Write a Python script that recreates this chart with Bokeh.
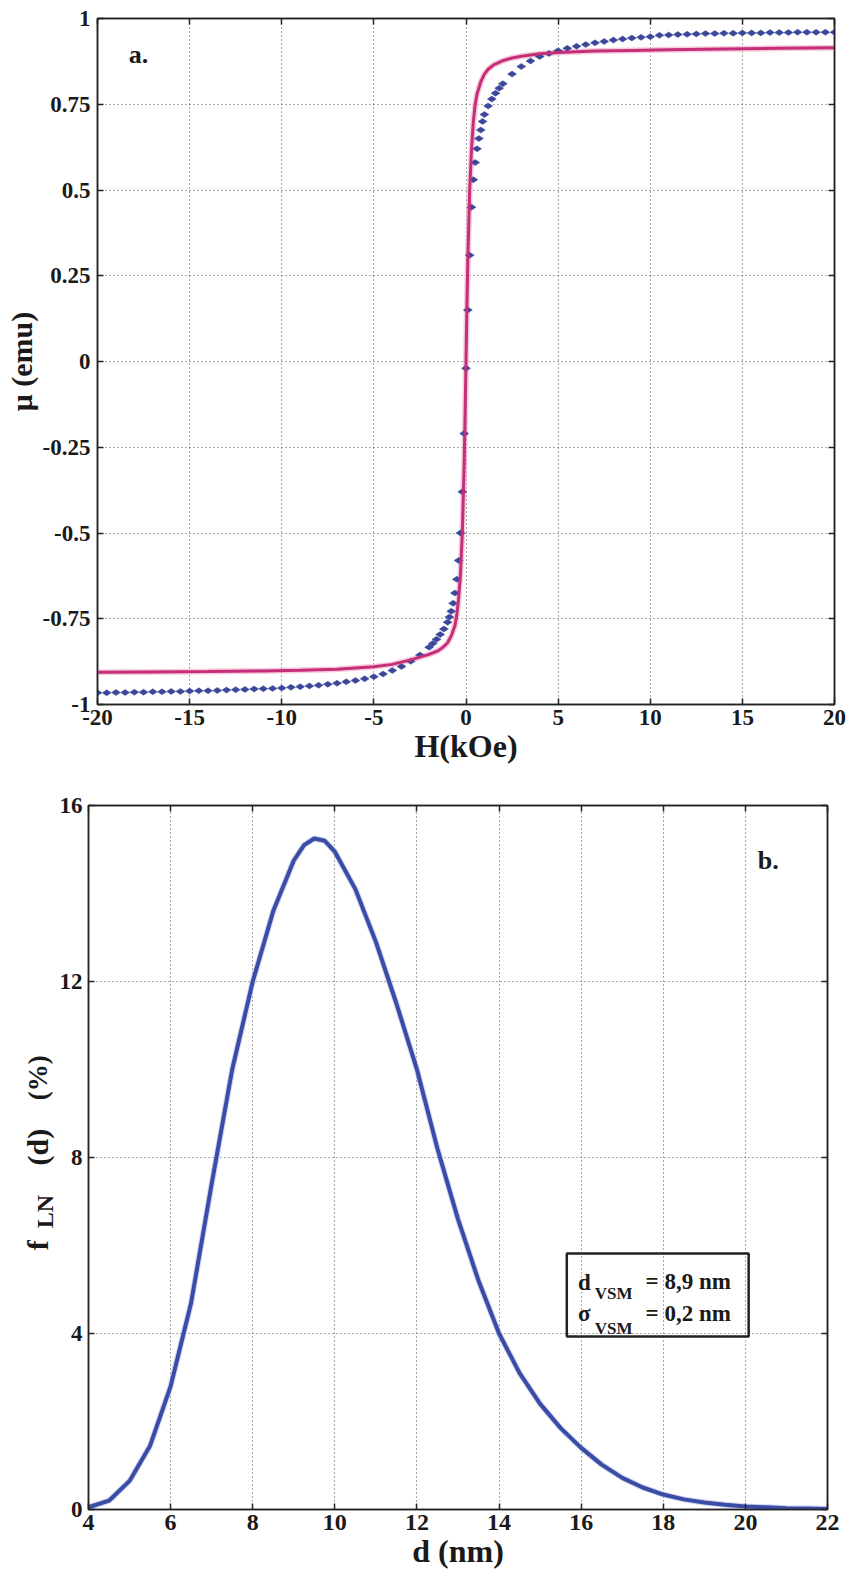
import numpy as np
from bokeh.plotting import figure
from bokeh.layouts import column, row
from bokeh.models import (Range1d, LinearAxis, FixedTicker, CustomJSTickFormatter,
                          Label, BoxAnnotation)
from bokeh.embed import file_html
from bokeh.resources import INLINE

# ---------------- data: panel a (magnetisation loop) ----------------
H_meas = [-20, -19.5, -19, -18.5, -18, -17.5, -17, -16.5, -16, -15.5, -15, -14.5, -14, -13.5,
          -13, -12.5, -12, -11.5, -11, -10.5, -10, -9.5, -9, -8.5, -8, -7.5, -7, -6.5, -6,
          -5.5, -5, -4.5, -4, -3.5, -3, -2.5, -2, -1.8, -1.6, -1.4, -1.2, -1.0, -0.9, -0.8,
          -0.7, -0.6, -0.5, -0.4, -0.3, -0.2, -0.1, 0,
          0.1, 0.2, 0.3, 0.4, 0.5, 0.6, 0.7, 0.8, 0.9, 1.0, 1.2, 1.4, 1.6, 1.8, 2.0, 2.5,
          3.0, 3.5, 4.0, 4.5, 5.0, 5.5, 6.0, 6.5, 7.0, 7.5, 8.0, 8.5, 9.0, 9.5, 10.0, 10.5,
          11, 11.5, 12, 12.5, 13, 13.5, 14, 14.5, 15, 15.5, 16, 16.5, 17, 17.5, 18, 18.5,
          19, 19.5, 20]
M_meas = [-0.966, -0.966, -0.965, -0.965, -0.964, -0.964, -0.963, -0.963, -0.962, -0.962,
          -0.961, -0.960, -0.960, -0.959, -0.958, -0.957, -0.956, -0.955, -0.954, -0.953,
          -0.952, -0.950, -0.948, -0.946, -0.944, -0.941, -0.938, -0.934, -0.930, -0.925,
          -0.919, -0.911, -0.901, -0.889, -0.874, -0.856, -0.833, -0.822, -0.810, -0.796,
          -0.780, -0.760, -0.745, -0.728, -0.705, -0.675, -0.635, -0.580, -0.500, -0.380,
          -0.210, -0.020,
          0.150, 0.310, 0.450, 0.530, 0.580, 0.620, 0.650, 0.675, 0.700, 0.720, 0.745,
          0.765, 0.782, 0.797, 0.810, 0.838, 0.860, 0.876, 0.889, 0.898, 0.906, 0.913,
          0.919, 0.924, 0.929, 0.933, 0.937, 0.940, 0.943, 0.945, 0.947, 0.951, 0.952,
          0.953, 0.954, 0.955, 0.956, 0.956, 0.957, 0.957, 0.958, 0.958, 0.958, 0.959,
          0.959, 0.959, 0.960, 0.960, 0.960, 0.960, 0.960]

H_fit = [-20, -17, -14, -11, -9, -7, -5, -4, -3, -2.5, -2, -1.5, -1.2, -1.0, -0.8, -0.6,
         -0.5, -0.4, -0.3, -0.2, -0.1, -0.05, 0, 0.05, 0.1, 0.2, 0.3, 0.4, 0.5, 0.6, 0.8,
         1.0, 1.2, 1.5, 2, 2.5, 3, 4, 5, 7, 9, 11, 14, 17, 20]
M_fit = [-0.906, -0.905, -0.904, -0.902, -0.900, -0.897, -0.890, -0.883, -0.870, -0.862,
         -0.854, -0.843, -0.831, -0.820, -0.800, -0.770, -0.740, -0.690, -0.620, -0.500,
         -0.300, -0.160, 0.0, 0.160, 0.300, 0.500, 0.620, 0.700, 0.750, 0.780, 0.815,
         0.838, 0.852, 0.865, 0.877, 0.885, 0.890, 0.897, 0.901, 0.905, 0.907, 0.909,
         0.911, 0.913, 0.915]

H_ticks = [-20, -15, -10, -5, 0, 5, 10, 15, 20]
M_ticks = [-1, -0.75, -0.5, -0.25, 0, 0.25, 0.5, 0.75, 1]

# ---------------- data: panel b (log-normal size distribution) ----------------
d_nm = [4, 4.5, 5, 5.5, 6, 6.5, 7, 7.5, 8, 8.5, 9, 9.25, 9.5, 9.75, 10, 10.5, 11, 11.5,
        12, 12.5, 13, 13.5, 14, 14.5, 15, 15.5, 16, 16.5, 17, 17.5, 18, 18.5, 19, 19.5,
        20, 20.5, 21, 21.5, 22]
f_ln = [0.05, 0.2, 0.65, 1.45, 2.8, 4.7, 7.4, 10.0, 12.0, 13.6, 14.75, 15.1, 15.25, 15.2,
        14.95, 14.1, 12.9, 11.5, 10.0, 8.2, 6.6, 5.2, 4.0, 3.1, 2.4, 1.85, 1.4, 1.02,
        0.72, 0.5, 0.34, 0.23, 0.16, 0.11, 0.07, 0.05, 0.03, 0.02, 0.01]

d_ticks = [4, 6, 8, 10, 12, 14, 16, 18, 20, 22]
f_ticks = [0, 4, 8, 12, 16]

FONT = "Liberation Serif"
INK = "#1a1a1a"
fmt = CustomJSTickFormatter(code="return String(Math.round(tick*100)/100);")


def style_axes(p, xt, yt, tick_size="23px", xlab_size="23px", ystand=7):
    p.outline_line_color = "#222222"
    p.outline_line_width = 1.5
    for g in (p.xgrid[0], p.ygrid[0]):
        g.grid_line_color = "#555555"
        g.grid_line_dash = "1 3"
        g.grid_line_width = 1.1
    p.xgrid.ticker = FixedTicker(ticks=xt)
    p.ygrid.ticker = FixedTicker(ticks=yt)
    for ax, t in ((p.below[0], xt), (p.left[0], yt)):
        ax.ticker = FixedTicker(ticks=t)
        ax.formatter = fmt
        ax.major_tick_in = 6
        ax.major_tick_out = 0
        ax.minor_tick_line_color = None
        ax.axis_line_color = "#222222"
        ax.axis_line_width = 1.5
        ax.major_tick_line_color = "#222222"
        ax.major_tick_line_width = 1.5
        ax.major_label_text_font = FONT
        ax.major_label_text_font_style = "bold"
        ax.major_label_text_color = INK
        ax.axis_label_text_font = FONT
        ax.axis_label_text_font_style = "bold"
        ax.axis_label_text_color = INK
    p.below[0].major_label_text_font_size = xlab_size
    p.left[0].major_label_text_font_size = tick_size
    p.below[0].major_label_standoff = 5
    p.left[0].major_label_standoff = ystand


def add_inner_ticks(p, xt, yt):
    # inner ticks on the top and right edges (no labels)
    for loc, t in (("right", yt), ("above", xt)):
        ax = LinearAxis(ticker=FixedTicker(ticks=t), major_label_text_color=None,
                        major_label_text_font_size="6px",
                        major_label_standoff=0, major_tick_in=6, major_tick_out=0,
                        minor_tick_line_color=None, axis_line_color="#222222",
                        axis_line_width=1.5, major_tick_line_color="#222222",
                        major_tick_line_width=1.5)
        p.add_layout(ax, loc)


# ---------------- panel a ----------------
p1 = figure(width=851, height=780, output_backend="svg", toolbar_location=None,
            x_range=Range1d(-20, 20), y_range=Range1d(-1, 1),
            min_border_left=97, min_border_right=17, min_border_top=18, min_border_bottom=76,
            background_fill_color="white", border_fill_color="white")
style_axes(p1, H_ticks, M_ticks)
p1.below[0].axis_label = "H(kOe)"
p1.below[0].axis_label_text_font_size = "32px"
p1.below[0].axis_label_standoff = 0
p1.left[0].axis_label = "μ (emu)"
p1.left[0].axis_label_text_font_size = "30px"
p1.left[0].axis_label_standoff = 2
add_inner_ticks(p1, H_ticks, M_ticks)

p1.line(H_fit, M_fit, line_color="#f2a6c8", line_width=6, line_alpha=0.6)
p1.scatter(H_meas, M_meas, marker="diamond", size=9, angle=np.pi / 2,
           fill_color="#3b479a", line_color="#3b479a", line_width=0.5)
p1.line(H_fit, M_fit, line_color="#c42f78", line_width=3)

p1.add_layout(Label(x=-18.3, y=0.895, text="a.", text_font=FONT, text_font_style="bold",
                    text_font_size="26px", text_baseline="middle", text_align="left",
                    text_color=INK))

# ---------------- panel b ----------------
LABW = 56   # narrow strip to the left of panel b holding its rotated y label
B_TOP, B_BOT = 25, 69
p2 = figure(width=851 - LABW, height=798, output_backend="svg", toolbar_location=None,
            x_range=Range1d(4, 22), y_range=Range1d(0, 16),
            min_border_left=87 - LABW, min_border_right=24, min_border_top=B_TOP,
            min_border_bottom=B_BOT,
            background_fill_color="white", border_fill_color="white")
style_axes(p2, d_ticks, f_ticks, tick_size="23px", xlab_size="24px", ystand=6)
p2.below[0].axis_label = "d (nm)"
p2.below[0].axis_label_text_font_size = "32px"
p2.below[0].axis_label_standoff = 0
add_inner_ticks(p2, d_ticks, f_ticks)

p2.line(d_nm, f_ln, line_color="#9fa8e0", line_width=6, line_alpha=0.5)
p2.line(d_nm, f_ln, line_color="#3a4ca6", line_width=4)

p2.add_layout(Label(x=20.3, y=14.75, text="b.", text_font=FONT, text_font_style="bold",
                    text_font_size="26px", text_baseline="middle", text_align="left",
                    text_color=INK))

# parameter box
p2.add_layout(BoxAnnotation(left=15.65, right=20.08, top=5.82, bottom=3.93,
                            fill_color=None, fill_alpha=0, line_color="#222222",
                            line_alpha=1.0, line_width=2.5))


def boxtxt(text, x, y, size):
    p2.add_layout(Label(x=x, y=y, text=text, text_font=FONT, text_font_style="bold",
                        text_font_size=size, text_align="left",
                        text_baseline="alphabetic", text_color=INK))


boxtxt("d", 15.92, 5.16, "23px")
boxtxt("VSM", 16.33, 4.91, "17px")
boxtxt("= 8,9 nm", 17.57, 5.18, "23px")
boxtxt("σ", 15.92, 4.45, "23px")
boxtxt("VSM", 16.33, 4.11, "17px")
boxtxt("= 0,2 nm", 17.57, 4.45, "23px")

# strip with the rotated y label  f_LN (d) (%)  -- same vertical frame as panel b
lab = figure(width=LABW, height=798, output_backend="svg", toolbar_location=None,
             x_range=Range1d(0, LABW), y_range=Range1d(0, 16),
             x_axis_type=None, y_axis_type=None,
             min_border_left=0, min_border_right=0, min_border_top=B_TOP,
             min_border_bottom=B_BOT,
             outline_line_color=None, background_fill_color="white",
             border_fill_color="white")
lab.grid.visible = False


def ylab(text, x, y, size):
    lab.add_layout(Label(x=x, y=y, text=text, angle=np.pi / 2, text_font=FONT,
                         text_font_style="bold", text_font_size=size, text_align="left",
                         text_baseline="alphabetic", text_color=INK))


ylab("f", 37, 5.89, "30px")
ylab("LN", 44, 6.39, "24px")
ylab("(d)", 37, 7.82, "30px")
ylab("(%)", 37, 9.30, "27px")

layout = column(p1, row(lab, p2, spacing=0), spacing=0)
open("out.html", "w").write(file_html(layout, INLINE))
